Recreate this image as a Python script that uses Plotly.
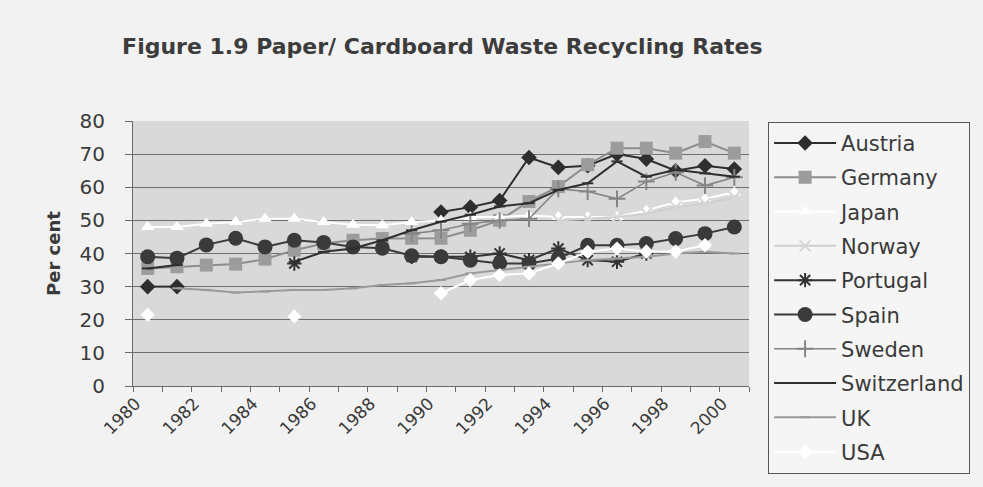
import plotly.graph_objects as go

years = list(range(1980, 2001))

austria = [30, 30, None, None, None, None, None, None, None, None,
           52.5, 54, 56, 69, 66, 66.5, 70, 68.5, 65, 66.5, 65.5]
germany = [35.5, 36, 36.5, 36.8, 38.3, 41, 43, 44, 44.5, 44.6,
           44.6, 47, 50, 55.7, 60.2, 66.8, 71.8, 71.8, 70.3, 73.8, 70.3]
japan = [48, 48, 49, 49.5, 50.5, 50.5, 49.5, 48.7, 48.5, 49.5,
         50, 51, 51, 51.5, 51, 51, 51, 53, 55.5, 56.5, 58.5]
norway = [None] * 14 + [50, 50.5, 51, 52, 54, 55, 57]
portugal = [None, None, None, None, None, 37, None, None, None, 39,
            39, 39, 40, 38, 41.5, 38, 37.5, 40, None, None, None]
spain = [39, 38.6, 42.6, 44.6, 42, 44, 43.3, 42, 41.6, 39.3,
         39, 38, 37, 37, 38.5, 42.5, 42.5, 43, 44.5, 46, 48]
sweden = [None] * 9 + [46, 47, 49, 50, 50.5, 59.5, 58.7, 56.5, 61.7, 64.5, 60.5, 63]
switzerland = [35.5, 36.5, None, None, None, 37.5, 40.5, 41.5, 44, 47,
               49.6, 51.7, 54.2, 55.2, 59.2, 61.2, 67.8, 63.2, 65.3, 64.2, 63.2]
uk = [None, 29.5, 29, 28.2, 28.5, 29, 29, 29.5, 30.5, 31,
      32, 34, 35, 36, 37, 38, 38.5, 39, 40, 40.5, 40]
usa = [21.5, None, None, None, None, 21, None, None, None, None,
       28, 32, 33.5, 34, 37, 40.5, 41.5, 40.6, 40.6, 42.5, None]

x_labels = list(range(1980, 2001, 2))

series = [
    ("Austria", austria, "#2e2e2e", "#2e2e2e", "diamond", 12, 2),
    ("Germany", germany, "#8c8c8c", "#9c9c9c", "square", 13, 2),
    ("Japan", japan, "#ffffff", "#ffffff", "triangle-up", 12, 2),
    ("Norway", norway, "#cfcfcf", "#d6d6d6", "x-thin-open", 11, 2),
    ("Portugal", portugal, "#333333", "#333333", "asterisk-open", 12, 2),
    ("Spain", spain, "#3a3a3a", "#3a3a3a", "circle", 15, 2),
    ("Sweden", sweden, "#858585", "#858585", "cross-thin-open", 12, 1.6),
    ("Switzerland", switzerland, "#2f2f2f", "#2f2f2f", "line-ew-open", 8, 2),
    ("UK", uk, "#9a9a9a", "#9a9a9a", "line-ew-open", 7, 2),
    ("USA", usa, "#ffffff", "#ffffff", "diamond", 11, 2),
]

FONT = "DejaVu Sans, Liberation Sans, Arial, sans-serif"

fig = go.Figure()
for name, vals, lcol, mcol, sym, size, lw in series:
    marker = dict(symbol=sym, size=size, color=mcol)
    if sym.endswith("-open"):
        marker["line"] = dict(color=mcol, width=2)
    fig.add_trace(go.Scatter(
        x=years, y=vals, name=name, mode="lines+markers",
        line=dict(color=lcol, width=lw), marker=marker,
        connectgaps=False, legendgroup=name,
    ))

fig.update_layout(
    width=983, height=487,
    margin=dict(l=133, r=234, t=121, b=101, autoexpand=False),
    paper_bgcolor="#f2f2f2",
    plot_bgcolor="#d9d9d9",
    font=dict(family=FONT, color="#333333"),
    title=dict(
        text="<b>Figure 1.9 Paper/ Cardboard Waste Recycling Rates</b>",
        x=0.45, xanchor="center", y=0.905, yanchor="middle",
        font=dict(size=22, color="#3c3c3c", family=FONT),
    ),
    legend=dict(
        x=1.031, xanchor="left", y=0.997, yanchor="top",
        bgcolor="#f5f5f5", bordercolor="#555555", borderwidth=1,
        font=dict(size=21, color="#3a3a3a", family=FONT),
        tracegroupgap=4, itemwidth=62, maxheight=420,
    ),
    showlegend=True,
)

fig.update_xaxes(
    range=[1979.5, 2000.5],
    tickmode="array", tickvals=x_labels, ticktext=[str(v) for v in x_labels],
    tickangle=-45, ticks="", showgrid=False, zeroline=False,
    showline=True, linecolor="#6a6a6a", linewidth=1,
    tickfont=dict(size=17, color="#3a3a3a", family=FONT),
    ticklabelshift=-12,
    minor=dict(tickvals=[y - 0.5 for y in range(1980, 2002)],
               ticks="outside", ticklen=5, tickcolor="#6a6a6a", showgrid=False),
)
fig.update_yaxes(
    range=[0, 80], dtick=10, ticks="outside", ticklen=7, tickcolor="#6a6a6a",
    showgrid=True, gridcolor="#6e6e6e", gridwidth=1, zeroline=False,
    showline=True, linecolor="#6a6a6a", linewidth=1,
    tickfont=dict(size=20, color="#3a3a3a", family=FONT),
    ticklabelstandoff=16,
    title=dict(text="<b>Per cent</b>", font=dict(size=18, color="#3a3a3a", family=FONT),
               standoff=14),
)

fig.write_html("out.html")
